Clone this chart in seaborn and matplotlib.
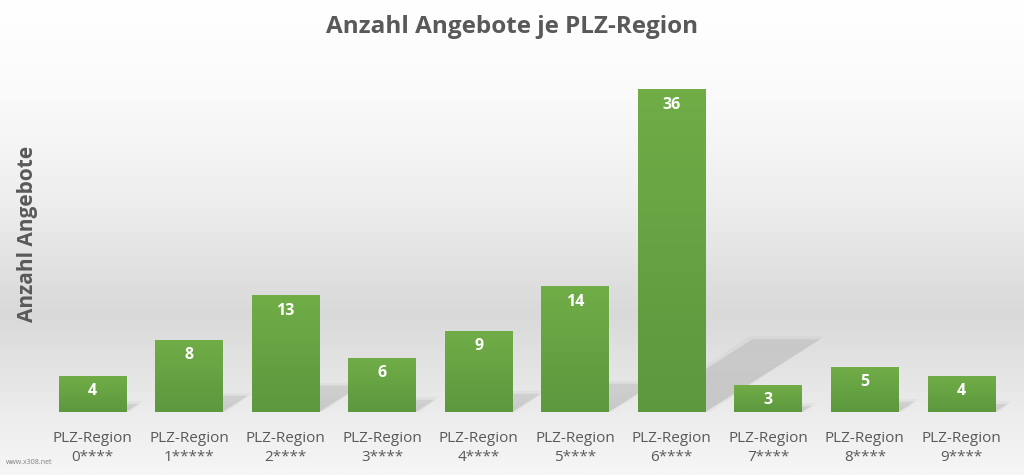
import matplotlib
matplotlib.use("Agg")
import numpy as np
import pandas as pd
import matplotlib.pyplot as plt
import seaborn as sns
from matplotlib.colors import LinearSegmentedColormap
from matplotlib.patches import Polygon

# data
regions = ["0****", "1*****", "2****", "3****", "4****",
           "5****", "6****", "7****", "8****", "9****"]
counts = [4, 8, 13, 6, 9, 14, 36, 3, 5, 4]
tick_labels = [f"PLZ-Region\n{r}" for r in regions]

TEXT_GREY = "#595959"

sns.set_theme(style="white")
plt.rcParams["font.family"] = ["Open Sans", "DejaVu Sans"]

fig = plt.figure(figsize=(10.24, 4.75), dpi=100)

# soft grey background gradient over the whole figure
bg = fig.add_axes([0, 0, 1, 1], zorder=-10)
stops = [(0.0, "#ffffff"), (0.21, "#fafafa"), (0.42, "#eeeeee"),
         (0.66, "#d9d9d9"), (0.87, "#ececec"), (1.0, "#f6f6f6")]
bg_cmap = LinearSegmentedColormap.from_list("bg", stops)
bg.imshow(np.linspace(0, 1, 256).reshape(-1, 1), aspect="auto",
          cmap=bg_cmap, extent=[0, 1, 0, 1])
bg.axis("off")

ax = fig.add_axes([0.043, 0.133, 0.943, 0.754])
ax.patch.set_alpha(0)

df = pd.DataFrame({"region": tick_labels, "count": counts})
sns.barplot(data=df, x="region", y="count", color="#6aa84f", width=0.7,
            saturation=1, linewidth=0, ax=ax, zorder=3)

green = LinearSegmentedColormap.from_list("green", ["#70ad47", "#5c983e"])
grad = np.linspace(0, 1, 100).reshape(-1, 1)

k, m = 0.033, 0.225   # shadow slant per unit of bar height
n = 14
for p in ax.patches:
    x0, w, h = p.get_x(), p.get_width(), p.get_height()
    # soft halo around the shadow
    s = 0.04
    halo = [(x0, 0), (x0 + w + s, 0),
            (x0 + w + k * h + s, m * h + s * 8), (x0 + k * h - s, m * h + s * 8)]
    ax.add_patch(Polygon(halo, closed=True, facecolor="#8a8a8a",
                         edgecolor="none", alpha=0.08, zorder=2))
    # perspective shadow, fading with height
    for i in range(n):
        t0, t1 = i / n, (i + 1) / n
        pts = [(x0 + k * h * t0, m * h * t0), (x0 + w + k * h * t0, m * h * t0),
               (x0 + w + k * h * t1, m * h * t1), (x0 + k * h * t1, m * h * t1)]
        ax.add_patch(Polygon(pts, closed=True, facecolor="#7a7a7a",
                             edgecolor="none", alpha=0.26 * (1 - 0.45 * t0), zorder=2))
    ax.imshow(grad, extent=[x0, x0 + w, 0, h], cmap=green, aspect="auto", zorder=4)
    ax.text(x0 + w / 2, h - 1.7, f"{int(h)}", ha="center", va="center",
            color="white", fontsize=11.5, fontweight="bold", zorder=5)

ax.set_xlim(-0.5, len(counts) - 0.5)
ax.set_ylim(0, 40)
ax.set_yticks([])
ax.set_xlabel("")
ax.set_ylabel("")
ax.tick_params(axis="x", length=0, labelsize=11, labelcolor=TEXT_GREY, pad=14)
for lab in ax.get_xticklabels():
    lab.set_linespacing(1.3)
sns.despine(ax=ax, left=True, bottom=True)

fig.text(0.5, 1 - 27 / 475, "Anzahl Angebote je PLZ-Region", ha="center", va="center",
         fontsize=17.5, fontweight="bold", color=TEXT_GREY)
fig.text(0.027, 1 - 234 / 475, "Anzahl Angebote", rotation=90, ha="center", va="center",
         fontsize=15, fontweight="bold", color=TEXT_GREY)
fig.text(0.006, 1 - 462 / 475, "www.x308.net", fontsize=5, color="#7f7f7f",
         va="center")

fig.savefig("out.png", dpi=100)
